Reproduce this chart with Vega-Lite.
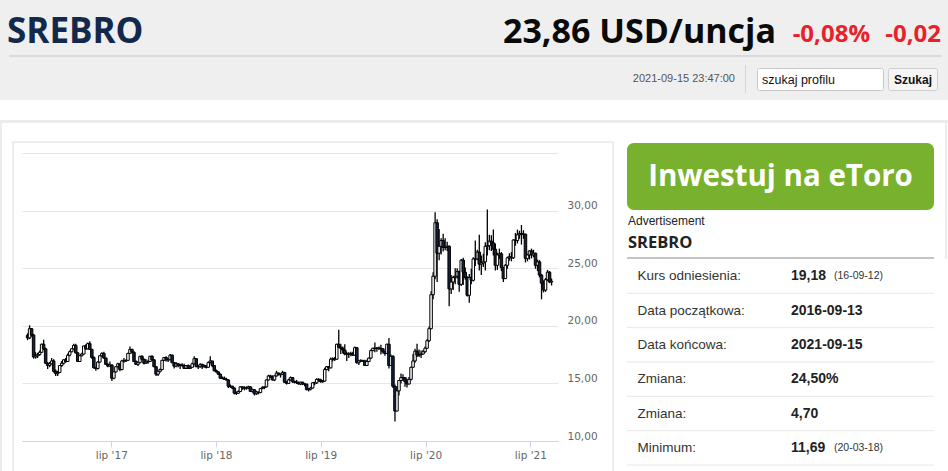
{
"$schema":"https://vega.github.io/schema/vega-lite/v6.json",
"padding":0,
"spacing":0,
"bounds":"flush",
"background":"#ffffff",
"config":{"view":{"stroke":null},"text":{"font":"Liberation Sans"}},
"vconcat":[
{"width":948,"height":57,"view":{"fill":"#efefef","stroke":null},
 "layer":[
  {"data":{"values":[{"t":"SREBRO"}]},"mark":{"type":"text","align":"left","baseline":"alphabetic","font":"Open Sans","fontSize":35,"fontWeight":700,"color":"#13294b"},
   "encoding":{"text":{"field":"t"},"x":{"datum":7,"type":"quantitative","scale":{"domain":[0,948],"nice":false,"zero":false},"axis":null},"y":{"datum":43,"type":"quantitative","scale":{"domain":[0,57],"nice":false,"zero":false,"reverse":true},"axis":null}}},
  {"data":{"values":[{"t":"23,86 USD/uncja"}]},"mark":{"type":"text","align":"right","baseline":"alphabetic","font":"Open Sans","fontSize":34,"fontWeight":700,"color":"#0a0a0a"},
   "encoding":{"text":{"field":"t"},"x":{"datum":776,"type":"quantitative"},"y":{"datum":43,"type":"quantitative"}}},
  {"data":{"values":[{"t":"-0,08%"}]},"mark":{"type":"text","align":"right","baseline":"alphabetic","font":"Open Sans","fontSize":24,"fontWeight":700,"color":"#e8212b"},
   "encoding":{"text":{"field":"t"},"x":{"datum":870,"type":"quantitative"},"y":{"datum":42,"type":"quantitative"}}},
  {"data":{"values":[{"t":"-0,02"}]},"mark":{"type":"text","align":"right","baseline":"alphabetic","font":"Open Sans","fontSize":24,"fontWeight":700,"color":"#e8212b"},
   "encoding":{"text":{"field":"t"},"x":{"datum":941,"type":"quantitative"},"y":{"datum":42,"type":"quantitative"}}},
  {"data":{"values":[{"t":"line"}]},"mark":{"type":"rect","color":"#d9d9d9"},
   "encoding":{"x":{"datum":9,"type":"quantitative"},"x2":{"datum":941},"y":{"datum":55,"type":"quantitative"},"y2":{"datum":57}}}
 ]},
{"width":948,"height":43,"view":{"fill":"#efefef","stroke":null},
 "layer":[
  {"data":{"values":[{"t":"2021-09-15 23:47:00"}]},"mark":{"type":"text","align":"right","baseline":"middle","font":"Liberation Sans","fontSize":11,"color":"#555555"},
   "encoding":{"text":{"field":"t"},"x":{"datum":735,"type":"quantitative","scale":{"domain":[0,948],"nice":false,"zero":false},"axis":null},"y":{"datum":22,"type":"quantitative","scale":{"domain":[0,43],"nice":false,"zero":false,"reverse":true},"axis":null}}},
  {"data":{"values":[{"t":"sep"}]},"mark":{"type":"rect","color":"#d6d6d6"},
   "encoding":{"x":{"datum":745,"type":"quantitative"},"x2":{"datum":746},"y":{"datum":8,"type":"quantitative"},"y2":{"datum":36}}},
  {"data":{"values":[{"t":"input"}]},"mark":{"type":"rect","fill":"#ffffff","stroke":"#c9c9c9","strokeWidth":1,"cornerRadius":2},
   "encoding":{"x":{"datum":757.5,"type":"quantitative"},"x2":{"datum":883.5},"y":{"datum":11.5,"type":"quantitative"},"y2":{"datum":33.5}}},
  {"data":{"values":[{"t":"szukaj profilu"}]},"mark":{"type":"text","align":"left","baseline":"middle","font":"Liberation Sans","fontSize":12.5,"color":"#111111"},
   "encoding":{"text":{"field":"t"},"x":{"datum":762,"type":"quantitative"},"y":{"datum":22.5,"type":"quantitative"}}},
  {"data":{"values":[{"t":"button"}]},"mark":{"type":"rect","fill":"#f5f5f5","stroke":"#cfcfcf","strokeWidth":1,"cornerRadius":2},
   "encoding":{"x":{"datum":888.5,"type":"quantitative"},"x2":{"datum":937.5},"y":{"datum":11.5,"type":"quantitative"},"y2":{"datum":33.5}}},
  {"data":{"values":[{"t":"Szukaj"}]},"mark":{"type":"text","align":"center","baseline":"middle","font":"Liberation Sans","fontSize":12,"fontWeight":700,"color":"#111111"},
   "encoding":{"text":{"field":"t"},"x":{"datum":913,"type":"quantitative"},"y":{"datum":22.5,"type":"quantitative"}}}
 ]},
{"width":948,"height":43,
 "layer":[
  {"data":{"values":[{"t":"outer"}]},"mark":{"type":"rect","color":"#ececec"},
   "encoding":{"x":{"datum":0,"type":"quantitative","scale":{"domain":[0,948],"nice":false,"zero":false},"axis":null},"x2":{"datum":948},"y":{"datum":20,"type":"quantitative","scale":{"domain":[0,43],"nice":false,"zero":false,"reverse":true},"axis":null},"y2":{"datum":23}}},
  {"data":{"values":[{"t":"outerleft"}]},"mark":{"type":"rect","color":"#ececec"},
   "encoding":{"x":{"datum":0,"type":"quantitative"},"x2":{"datum":2},"y":{"datum":20,"type":"quantitative"},"y2":{"datum":43}}},
  {"data":{"values":[{"t":"outerright"}]},"mark":{"type":"rect","color":"#ececec"},
   "encoding":{"x":{"datum":945,"type":"quantitative"},"x2":{"datum":947},"y":{"datum":20,"type":"quantitative"},"y2":{"datum":43}}},
  {"data":{"values":[{"t":"innertop"}]},"mark":{"type":"rect","color":"#eeeeee"},
   "encoding":{"x":{"datum":12,"type":"quantitative"},"x2":{"datum":614},"y":{"datum":41,"type":"quantitative"},"y2":{"datum":43}}}
 ]},
{"hconcat":[
  {"width":22,"height":328,
   "layer":[
    {"data":{"values":[{"t":"a"}]},"mark":{"type":"rect","color":"#ececec"},
     "encoding":{"x":{"datum":0,"type":"quantitative","scale":{"domain":[0,22],"nice":false,"zero":false},"axis":null},"x2":{"datum":2},"y":{"datum":0,"type":"quantitative","scale":{"domain":[0,328],"nice":false,"zero":false,"reverse":true},"axis":null},"y2":{"datum":328}}},
    {"data":{"values":[{"t":"b"}]},"mark":{"type":"rect","color":"#eeeeee"},
     "encoding":{"x":{"datum":12,"type":"quantitative"},"x2":{"datum":14},"y":{"datum":0,"type":"quantitative"},"y2":{"datum":328}}}
   ]},
  {"width":536,"height":298,
     "data":{"values":[
{"d":"2016-09-12","o":19.18,"h":19.35,"l":18.75,"c":18.95},
{"d":"2016-09-19","o":18.95,"h":20.05,"l":18.85,"c":19.75},
{"d":"2016-09-26","o":19.75,"h":19.8,"l":19.05,"c":19.2},
{"d":"2016-10-03","o":19.2,"h":19.3,"l":17.15,"c":17.3},
{"d":"2016-10-10","o":17.3,"h":17.7,"l":17.15,"c":17.4},
{"d":"2016-10-17","o":17.4,"h":17.65,"l":17.2,"c":17.5},
{"d":"2016-10-24","o":17.5,"h":17.85,"l":17.4,"c":17.7},
{"d":"2016-10-31","o":17.7,"h":18.45,"l":17.65,"c":18.4},
{"d":"2016-11-07","o":18.4,"h":18.8,"l":17.9,"c":18.0},
{"d":"2016-11-14","o":18.0,"h":18.1,"l":16.7,"c":16.75},
{"d":"2016-11-21","o":16.75,"h":16.85,"l":16.25,"c":16.55},
{"d":"2016-11-28","o":16.55,"h":16.85,"l":16.4,"c":16.7},
{"d":"2016-12-05","o":16.7,"h":17.2,"l":16.65,"c":16.95},
{"d":"2016-12-12","o":16.95,"h":17.1,"l":15.95,"c":16.05},
{"d":"2016-12-19","o":16.05,"h":16.2,"l":15.65,"c":15.85},
{"d":"2016-12-26","o":15.85,"h":16.1,"l":15.65,"c":15.95},
{"d":"2017-01-02","o":15.95,"h":16.6,"l":15.9,"c":16.55},
{"d":"2017-01-09","o":16.55,"h":16.95,"l":16.45,"c":16.75},
{"d":"2017-01-16","o":16.75,"h":17.1,"l":16.65,"c":17.05},
{"d":"2017-01-23","o":17.05,"h":17.2,"l":16.8,"c":16.9},
{"d":"2017-01-30","o":16.9,"h":17.6,"l":16.85,"c":17.45},
{"d":"2017-02-06","o":17.45,"h":17.85,"l":17.35,"c":17.75},
{"d":"2017-02-13","o":17.75,"h":18.05,"l":17.7,"c":18.0},
{"d":"2017-02-20","o":18.0,"h":18.45,"l":17.95,"c":18.3},
{"d":"2017-02-27","o":18.3,"h":18.45,"l":17.6,"c":17.65},
{"d":"2017-03-06","o":17.65,"h":17.7,"l":16.85,"c":16.9},
{"d":"2017-03-13","o":16.9,"h":17.45,"l":16.85,"c":17.4},
{"d":"2017-03-20","o":17.4,"h":17.65,"l":17.35,"c":17.55},
{"d":"2017-03-27","o":17.55,"h":18.3,"l":17.5,"c":18.25},
{"d":"2017-04-03","o":18.25,"h":18.4,"l":17.9,"c":18.0},
{"d":"2017-04-10","o":18.0,"h":18.55,"l":17.95,"c":18.45},
{"d":"2017-04-17","o":18.45,"h":18.65,"l":17.9,"c":17.95},
{"d":"2017-04-24","o":17.95,"h":18.0,"l":17.15,"c":17.25},
{"d":"2017-05-01","o":17.25,"h":17.35,"l":16.3,"c":16.35},
{"d":"2017-05-08","o":16.35,"h":16.45,"l":16.1,"c":16.3},
{"d":"2017-05-15","o":16.3,"h":16.95,"l":16.2,"c":16.85},
{"d":"2017-05-22","o":16.85,"h":17.45,"l":16.8,"c":17.4},
{"d":"2017-05-29","o":17.4,"h":17.7,"l":17.3,"c":17.6},
{"d":"2017-06-05","o":17.6,"h":17.75,"l":17.15,"c":17.2},
{"d":"2017-06-12","o":17.2,"h":17.25,"l":16.6,"c":16.65},
{"d":"2017-06-19","o":16.65,"h":16.75,"l":16.4,"c":16.5},
{"d":"2017-06-26","o":16.5,"h":16.9,"l":16.45,"c":16.6},
{"d":"2017-07-03","o":16.6,"h":16.65,"l":15.2,"c":15.45},
{"d":"2017-07-10","o":15.45,"h":16.05,"l":15.35,"c":16.0},
{"d":"2017-07-17","o":16.0,"h":16.5,"l":15.95,"c":16.45},
{"d":"2017-07-24","o":16.45,"h":16.8,"l":16.4,"c":16.7},
{"d":"2017-07-31","o":16.7,"h":16.75,"l":16.05,"c":16.2},
{"d":"2017-08-07","o":16.2,"h":17.05,"l":16.15,"c":16.95},
{"d":"2017-08-14","o":16.95,"h":17.2,"l":16.8,"c":16.95},
{"d":"2017-08-21","o":16.95,"h":17.1,"l":16.85,"c":17.0},
{"d":"2017-08-28","o":17.0,"h":17.65,"l":16.95,"c":17.6},
{"d":"2017-09-04","o":17.6,"h":18.2,"l":17.55,"c":17.95},
{"d":"2017-09-11","o":17.95,"h":18.0,"l":17.65,"c":17.7},
{"d":"2017-09-18","o":17.7,"h":17.8,"l":16.85,"c":16.9},
{"d":"2017-09-25","o":16.9,"h":17.0,"l":16.6,"c":16.65},
{"d":"2017-10-02","o":16.65,"h":16.9,"l":16.5,"c":16.8},
{"d":"2017-10-09","o":16.8,"h":17.4,"l":16.75,"c":17.35},
{"d":"2017-10-16","o":17.35,"h":17.45,"l":17.05,"c":17.1},
{"d":"2017-10-23","o":17.1,"h":17.15,"l":16.65,"c":16.75},
{"d":"2017-10-30","o":16.75,"h":17.1,"l":16.7,"c":16.85},
{"d":"2017-11-06","o":16.85,"h":17.05,"l":16.7,"c":16.9},
{"d":"2017-11-13","o":16.9,"h":17.4,"l":16.85,"c":17.35},
{"d":"2017-11-20","o":17.35,"h":17.45,"l":16.95,"c":17.05},
{"d":"2017-11-27","o":17.05,"h":17.1,"l":16.4,"c":16.45},
{"d":"2017-12-04","o":16.45,"h":16.5,"l":15.65,"c":15.8},
{"d":"2017-12-11","o":15.8,"h":16.1,"l":15.65,"c":16.05},
{"d":"2017-12-18","o":16.05,"h":16.3,"l":15.95,"c":16.2},
{"d":"2017-12-25","o":16.2,"h":17.05,"l":16.15,"c":17.0},
{"d":"2018-01-01","o":17.0,"h":17.3,"l":16.95,"c":17.25},
{"d":"2018-01-08","o":17.25,"h":17.35,"l":16.9,"c":17.05},
{"d":"2018-01-15","o":17.05,"h":17.2,"l":16.85,"c":17.05},
{"d":"2018-01-22","o":17.05,"h":17.55,"l":17.0,"c":17.45},
{"d":"2018-01-29","o":17.45,"h":17.5,"l":16.75,"c":16.8},
{"d":"2018-02-05","o":16.8,"h":16.85,"l":16.3,"c":16.5},
{"d":"2018-02-12","o":16.5,"h":16.85,"l":16.4,"c":16.7},
{"d":"2018-02-19","o":16.7,"h":16.75,"l":16.4,"c":16.55},
{"d":"2018-02-26","o":16.55,"h":16.7,"l":16.25,"c":16.6},
{"d":"2018-03-05","o":16.6,"h":16.75,"l":16.45,"c":16.55},
{"d":"2018-03-12","o":16.55,"h":16.7,"l":16.25,"c":16.3},
{"d":"2018-03-19","o":16.3,"h":16.6,"l":16.25,"c":16.55},
{"d":"2018-03-26","o":16.55,"h":16.65,"l":16.25,"c":16.3},
{"d":"2018-04-02","o":16.3,"h":16.55,"l":16.25,"c":16.4},
{"d":"2018-04-09","o":16.4,"h":16.8,"l":16.35,"c":16.7},
{"d":"2018-04-16","o":16.7,"h":17.35,"l":16.65,"c":17.15},
{"d":"2018-04-23","o":17.15,"h":17.2,"l":16.4,"c":16.45},
{"d":"2018-04-30","o":16.45,"h":16.6,"l":16.25,"c":16.45},
{"d":"2018-05-07","o":16.45,"h":16.75,"l":16.35,"c":16.65},
{"d":"2018-05-14","o":16.65,"h":16.7,"l":16.25,"c":16.45},
{"d":"2018-05-21","o":16.45,"h":16.65,"l":16.35,"c":16.55},
{"d":"2018-05-28","o":16.55,"h":16.6,"l":16.3,"c":16.4},
{"d":"2018-06-04","o":16.4,"h":16.9,"l":16.35,"c":16.8},
{"d":"2018-06-11","o":16.8,"h":17.35,"l":16.75,"c":16.95},
{"d":"2018-06-18","o":16.95,"h":16.95,"l":16.4,"c":16.55},
{"d":"2018-06-25","o":16.55,"h":16.6,"l":16.05,"c":16.1},
{"d":"2018-07-02","o":16.1,"h":16.2,"l":15.95,"c":16.0},
{"d":"2018-07-09","o":16.0,"h":16.05,"l":15.75,"c":15.8},
{"d":"2018-07-16","o":15.8,"h":15.85,"l":15.4,"c":15.45},
{"d":"2018-07-23","o":15.45,"h":15.6,"l":15.35,"c":15.45},
{"d":"2018-07-30","o":15.45,"h":15.6,"l":15.3,"c":15.35},
{"d":"2018-08-06","o":15.35,"h":15.5,"l":15.25,"c":15.3},
{"d":"2018-08-13","o":15.3,"h":15.35,"l":14.6,"c":14.75},
{"d":"2018-08-20","o":14.75,"h":14.9,"l":14.6,"c":14.75},
{"d":"2018-08-27","o":14.75,"h":14.8,"l":14.5,"c":14.6},
{"d":"2018-09-03","o":14.6,"h":14.65,"l":14.05,"c":14.15},
{"d":"2018-09-10","o":14.15,"h":14.3,"l":14.0,"c":14.15},
{"d":"2018-09-17","o":14.15,"h":14.4,"l":14.1,"c":14.3},
{"d":"2018-09-24","o":14.3,"h":14.75,"l":14.25,"c":14.7},
{"d":"2018-10-01","o":14.7,"h":14.75,"l":14.45,"c":14.6},
{"d":"2018-10-08","o":14.6,"h":14.75,"l":14.4,"c":14.6},
{"d":"2018-10-15","o":14.6,"h":14.75,"l":14.45,"c":14.6},
{"d":"2018-10-22","o":14.6,"h":14.8,"l":14.5,"c":14.7},
{"d":"2018-10-29","o":14.7,"h":14.75,"l":14.25,"c":14.3},
{"d":"2018-11-05","o":14.3,"h":14.55,"l":14.2,"c":14.45},
{"d":"2018-11-12","o":14.45,"h":14.5,"l":13.95,"c":14.1},
{"d":"2018-11-19","o":14.1,"h":14.35,"l":14.0,"c":14.25},
{"d":"2018-11-26","o":14.25,"h":14.3,"l":14.05,"c":14.2},
{"d":"2018-12-03","o":14.2,"h":14.6,"l":14.15,"c":14.55},
{"d":"2018-12-10","o":14.55,"h":14.75,"l":14.5,"c":14.65},
{"d":"2018-12-17","o":14.65,"h":14.75,"l":14.5,"c":14.7},
{"d":"2018-12-24","o":14.7,"h":15.35,"l":14.65,"c":15.3},
{"d":"2018-12-31","o":15.3,"h":15.75,"l":15.25,"c":15.65},
{"d":"2019-01-07","o":15.65,"h":15.75,"l":15.5,"c":15.55},
{"d":"2019-01-14","o":15.55,"h":15.7,"l":15.25,"c":15.3},
{"d":"2019-01-21","o":15.3,"h":15.7,"l":15.2,"c":15.65},
{"d":"2019-01-28","o":15.65,"h":16.1,"l":15.6,"c":15.9},
{"d":"2019-02-04","o":15.9,"h":15.95,"l":15.7,"c":15.75},
{"d":"2019-02-11","o":15.75,"h":15.85,"l":15.5,"c":15.8},
{"d":"2019-02-18","o":15.8,"h":16.1,"l":15.75,"c":15.95},
{"d":"2019-02-25","o":15.95,"h":16.0,"l":15.05,"c":15.1},
{"d":"2019-03-04","o":15.1,"h":15.2,"l":14.9,"c":15.0},
{"d":"2019-03-11","o":15.0,"h":15.4,"l":14.95,"c":15.3},
{"d":"2019-03-18","o":15.3,"h":15.6,"l":15.25,"c":15.5},
{"d":"2019-03-25","o":15.5,"h":15.55,"l":15.05,"c":15.15},
{"d":"2019-04-01","o":15.15,"h":15.25,"l":15.0,"c":15.1},
{"d":"2019-04-08","o":15.1,"h":15.3,"l":14.95,"c":15.1},
{"d":"2019-04-15","o":15.1,"h":15.15,"l":14.9,"c":14.95},
{"d":"2019-04-22","o":14.95,"h":15.15,"l":14.85,"c":15.1},
{"d":"2019-04-29","o":15.1,"h":15.15,"l":14.85,"c":14.95},
{"d":"2019-05-06","o":14.95,"h":15.0,"l":14.75,"c":14.95},
{"d":"2019-05-13","o":14.95,"h":14.95,"l":14.4,"c":14.45},
{"d":"2019-05-20","o":14.45,"h":14.6,"l":14.3,"c":14.5},
{"d":"2019-05-27","o":14.5,"h":14.7,"l":14.4,"c":14.6},
{"d":"2019-06-03","o":14.6,"h":15.1,"l":14.55,"c":15.05},
{"d":"2019-06-10","o":15.05,"h":15.15,"l":14.85,"c":15.05},
{"d":"2019-06-17","o":15.05,"h":15.45,"l":14.95,"c":15.35},
{"d":"2019-06-24","o":15.35,"h":15.45,"l":15.15,"c":15.3},
{"d":"2019-07-01","o":15.3,"h":15.4,"l":15.05,"c":15.15},
{"d":"2019-07-08","o":15.15,"h":15.3,"l":15.05,"c":15.2},
{"d":"2019-07-15","o":15.2,"h":16.35,"l":15.15,"c":16.2},
{"d":"2019-07-22","o":16.2,"h":16.5,"l":16.15,"c":16.45},
{"d":"2019-07-29","o":16.45,"h":16.5,"l":16.05,"c":16.35},
{"d":"2019-08-05","o":16.35,"h":17.25,"l":16.3,"c":17.1},
{"d":"2019-08-12","o":17.1,"h":17.25,"l":16.9,"c":17.15},
{"d":"2019-08-19","o":17.15,"h":17.3,"l":16.95,"c":17.1},
{"d":"2019-08-26","o":17.1,"h":18.45,"l":17.05,"c":18.4},
{"d":"2019-09-02","o":18.4,"h":19.65,"l":18.05,"c":18.15},
{"d":"2019-09-09","o":18.15,"h":18.45,"l":17.55,"c":18.05},
{"d":"2019-09-16","o":18.05,"h":18.2,"l":17.6,"c":17.9},
{"d":"2019-09-23","o":17.9,"h":18.4,"l":17.45,"c":17.55},
{"d":"2019-09-30","o":17.55,"h":17.75,"l":16.95,"c":17.55},
{"d":"2019-10-07","o":17.55,"h":17.7,"l":17.2,"c":17.55},
{"d":"2019-10-14","o":17.55,"h":17.75,"l":17.35,"c":17.6},
{"d":"2019-10-21","o":17.6,"h":17.75,"l":17.4,"c":17.45},
{"d":"2019-10-28","o":17.45,"h":18.2,"l":17.4,"c":18.1},
{"d":"2019-11-04","o":18.1,"h":18.15,"l":16.7,"c":16.8},
{"d":"2019-11-11","o":16.8,"h":17.05,"l":16.6,"c":16.95},
{"d":"2019-11-18","o":16.95,"h":17.1,"l":16.85,"c":16.95},
{"d":"2019-11-25","o":16.95,"h":17.05,"l":16.85,"c":16.95},
{"d":"2019-12-02","o":16.95,"h":17.05,"l":16.5,"c":16.55},
{"d":"2019-12-09","o":16.55,"h":17.05,"l":16.5,"c":16.9},
{"d":"2019-12-16","o":16.9,"h":17.25,"l":16.85,"c":17.2},
{"d":"2019-12-23","o":17.2,"h":17.95,"l":17.15,"c":17.85},
{"d":"2019-12-30","o":17.85,"h":18.1,"l":17.8,"c":18.05},
{"d":"2020-01-06","o":18.05,"h":18.55,"l":17.7,"c":18.05},
{"d":"2020-01-13","o":18.05,"h":18.15,"l":17.75,"c":18.05},
{"d":"2020-01-20","o":18.05,"h":18.2,"l":17.9,"c":18.05},
{"d":"2020-01-27","o":18.05,"h":18.35,"l":17.5,"c":18.0},
{"d":"2020-02-03","o":18.0,"h":18.05,"l":17.6,"c":17.75},
{"d":"2020-02-10","o":17.75,"h":17.8,"l":17.4,"c":17.6},
{"d":"2020-02-17","o":17.6,"h":18.45,"l":17.55,"c":18.4},
{"d":"2020-02-24","o":18.4,"h":18.95,"l":16.3,"c":16.55},
{"d":"2020-03-02","o":16.55,"h":17.5,"l":16.5,"c":17.35},
{"d":"2020-03-09","o":17.35,"h":17.45,"l":14.6,"c":14.75},
{"d":"2020-03-16","o":14.75,"h":14.9,"l":11.69,"c":12.6},
{"d":"2020-03-23","o":12.6,"h":14.75,"l":12.55,"c":14.35},
{"d":"2020-03-30","o":14.35,"h":15.3,"l":13.95,"c":15.25},
{"d":"2020-04-06","o":15.25,"h":15.85,"l":15.0,"c":15.5},
{"d":"2020-04-13","o":15.5,"h":15.8,"l":15.2,"c":15.5},
{"d":"2020-04-20","o":15.5,"h":15.55,"l":14.7,"c":15.15},
{"d":"2020-04-27","o":15.15,"h":15.4,"l":14.65,"c":14.95},
{"d":"2020-05-04","o":14.95,"h":15.55,"l":14.9,"c":15.35},
{"d":"2020-05-11","o":15.35,"h":16.45,"l":15.25,"c":16.4},
{"d":"2020-05-18","o":16.4,"h":17.55,"l":16.35,"c":16.95},
{"d":"2020-05-25","o":16.95,"h":18.0,"l":16.8,"c":17.8},
{"d":"2020-06-01","o":17.8,"h":18.45,"l":17.3,"c":17.45},
{"d":"2020-06-08","o":17.45,"h":17.95,"l":17.3,"c":17.5},
{"d":"2020-06-15","o":17.5,"h":17.85,"l":17.2,"c":17.55},
{"d":"2020-06-22","o":17.55,"h":17.9,"l":17.5,"c":17.75},
{"d":"2020-06-29","o":17.75,"h":18.2,"l":17.65,"c":18.05},
{"d":"2020-07-06","o":18.05,"h":18.85,"l":18.0,"c":18.7},
{"d":"2020-07-13","o":18.7,"h":19.95,"l":18.6,"c":19.75},
{"d":"2020-07-20","o":19.75,"h":23.0,"l":19.7,"c":22.7},
{"d":"2020-07-27","o":22.7,"h":24.65,"l":22.3,"c":24.3},
{"d":"2020-08-03","o":24.3,"h":29.85,"l":24.05,"c":28.95},
{"d":"2020-08-10","o":28.95,"h":29.25,"l":23.8,"c":26.3},
{"d":"2020-08-17","o":26.3,"h":28.4,"l":25.7,"c":26.9},
{"d":"2020-08-24","o":26.9,"h":27.6,"l":26.2,"c":27.4},
{"d":"2020-08-31","o":27.4,"h":28.0,"l":26.45,"c":26.8},
{"d":"2020-09-07","o":26.8,"h":27.6,"l":26.55,"c":26.8},
{"d":"2020-09-14","o":26.8,"h":27.3,"l":26.5,"c":26.9},
{"d":"2020-09-21","o":26.9,"h":27.0,"l":21.7,"c":23.2},
{"d":"2020-09-28","o":23.2,"h":24.4,"l":22.75,"c":23.8},
{"d":"2020-10-05","o":23.8,"h":24.35,"l":23.1,"c":24.2},
{"d":"2020-10-12","o":24.2,"h":25.0,"l":23.6,"c":24.3},
{"d":"2020-10-19","o":24.3,"h":25.0,"l":24.1,"c":24.7},
{"d":"2020-10-26","o":24.7,"h":24.8,"l":22.95,"c":23.6},
{"d":"2020-11-02","o":23.6,"h":25.8,"l":23.45,"c":25.7},
{"d":"2020-11-09","o":25.7,"h":25.9,"l":23.55,"c":24.65},
{"d":"2020-11-16","o":24.65,"h":25.05,"l":24.0,"c":24.2},
{"d":"2020-11-23","o":24.2,"h":24.3,"l":22.55,"c":22.65},
{"d":"2020-11-30","o":22.65,"h":24.5,"l":22.0,"c":24.2},
{"d":"2020-12-07","o":24.2,"h":24.95,"l":23.6,"c":23.95},
{"d":"2020-12-14","o":23.95,"h":25.95,"l":23.85,"c":25.8},
{"d":"2020-12-21","o":25.8,"h":27.4,"l":25.2,"c":25.8},
{"d":"2020-12-28","o":25.8,"h":26.6,"l":25.7,"c":26.4},
{"d":"2021-01-04","o":26.4,"h":27.9,"l":24.8,"c":25.35},
{"d":"2021-01-11","o":25.35,"h":26.1,"l":24.4,"c":25.45},
{"d":"2021-01-18","o":25.45,"h":26.25,"l":25.1,"c":25.55},
{"d":"2021-01-25","o":25.55,"h":27.25,"l":24.8,"c":26.9},
{"d":"2021-02-01","o":26.9,"h":30.1,"l":26.1,"c":26.95},
{"d":"2021-02-08","o":26.95,"h":27.9,"l":26.55,"c":27.35},
{"d":"2021-02-15","o":27.35,"h":27.85,"l":26.5,"c":27.2},
{"d":"2021-02-22","o":27.2,"h":28.35,"l":26.1,"c":26.65},
{"d":"2021-03-01","o":26.65,"h":27.15,"l":24.8,"c":25.25},
{"d":"2021-03-08","o":25.25,"h":26.35,"l":24.85,"c":26.15},
{"d":"2021-03-15","o":26.15,"h":26.7,"l":25.8,"c":26.25},
{"d":"2021-03-22","o":26.25,"h":26.4,"l":24.75,"c":25.05},
{"d":"2021-03-29","o":25.05,"h":25.1,"l":23.8,"c":24.1},
{"d":"2021-04-05","o":24.1,"h":25.35,"l":24.05,"c":25.25},
{"d":"2021-04-12","o":25.25,"h":26.0,"l":24.95,"c":25.9},
{"d":"2021-04-19","o":25.9,"h":26.3,"l":25.65,"c":26.0},
{"d":"2021-04-26","o":26.0,"h":26.4,"l":25.6,"c":25.9},
{"d":"2021-05-03","o":25.9,"h":27.5,"l":25.8,"c":27.45},
{"d":"2021-05-10","o":27.45,"h":28.05,"l":26.95,"c":27.4},
{"d":"2021-05-17","o":27.4,"h":28.35,"l":27.15,"c":27.9},
{"d":"2021-05-24","o":27.9,"h":28.25,"l":27.55,"c":28.0},
{"d":"2021-05-31","o":28.0,"h":28.75,"l":27.05,"c":27.95},
{"d":"2021-06-07","o":27.95,"h":28.3,"l":27.55,"c":27.95},
{"d":"2021-06-14","o":27.95,"h":28.0,"l":25.5,"c":25.85},
{"d":"2021-06-21","o":25.85,"h":26.25,"l":25.6,"c":26.15},
{"d":"2021-06-28","o":26.15,"h":26.55,"l":25.75,"c":26.5},
{"d":"2021-07-05","o":26.5,"h":26.7,"l":25.85,"c":26.15},
{"d":"2021-07-12","o":26.15,"h":26.6,"l":25.95,"c":26.3},
{"d":"2021-07-19","o":26.3,"h":26.35,"l":24.95,"c":25.25},
{"d":"2021-07-26","o":25.25,"h":25.75,"l":24.75,"c":25.55},
{"d":"2021-08-02","o":25.55,"h":25.7,"l":24.2,"c":24.4},
{"d":"2021-08-09","o":24.4,"h":24.5,"l":22.3,"c":23.7},
{"d":"2021-08-16","o":23.7,"h":23.95,"l":22.9,"c":23.1},
{"d":"2021-08-23","o":23.1,"h":24.15,"l":22.95,"c":24.0},
{"d":"2021-08-30","o":24.0,"h":24.85,"l":23.9,"c":24.65},
{"d":"2021-09-06","o":24.65,"h":24.75,"l":23.7,"c":23.8},
{"d":"2021-09-13","o":23.8,"h":24.1,"l":23.5,"c":23.86}
     ]},
     "encoding":{"x":{"field":"d","type":"temporal",
        "scale":{"domain":[{"year":2016,"month":9,"date":10,"utc":true},{"year":2021,"month":9,"date":18,"utc":true}]},
        "axis":{"title":null,"grid":false,"values":[{"year":2017,"month":7,"date":1,"utc":true},{"year":2018,"month":7,"date":1,"utc":true},{"year":2019,"month":7,"date":1,"utc":true},{"year":2020,"month":7,"date":1,"utc":true},{"year":2021,"month":7,"date":1,"utc":true}],
          "labelExpr":"\"lip '\" + utcFormat(datum.value, '%y')","domainColor":"#ccd6eb","tickColor":"#ccd6eb","tickSize":6,"labelColor":"#666666","labelFont":"DejaVu Sans","labelFontSize":10.5,"labelPadding":3,"labelFlush":false,"labelOverlap":false}}},
     "layer":[
      {"mark":{"type":"rule","color":"#000000","strokeWidth":1.3},
       "encoding":{"y":{"field":"l","type":"quantitative","scale":{"domain":[10,35.868],"nice":false,"zero":false},
          "axis":{"title":null,"orient":"right","values":[10,15,20,25,30,35],"labelExpr":"datum.value >= 35 ? '' : replace(format(datum.value, '.2f'), '.', ',')","grid":true,"gridColor":{"condition":{"test":"datum.value == 10","value":"#ccd6eb"},"value":"#e6e6e6"},"domain":false,"ticks":false,"tickSize":0,"labelPadding":9,"labelColor":"#666666","labelFont":"DejaVu Sans","labelFontSize":10.5,"labelBaseline":"bottom","labelAlign":"left"}},
        "y2":{"field":"h"}}},
      {"mark":{"type":"bar","size":2.5,"stroke":"#000000","strokeWidth":1},
       "encoding":{"y":{"field":"o","type":"quantitative"},"y2":{"field":"c"},
        "fill":{"condition":{"test":"datum.c < datum.o","value":"#14233f"},"value":"#ffffff"}}}
     ]},
  {"width":69,"height":328,
   "layer":[
    {"data":{"values":[{"t":"r"}]},"mark":{"type":"rect","color":"#eeeeee"},
     "encoding":{"x":{"datum":54,"type":"quantitative","scale":{"domain":[0,69],"nice":false,"zero":false},"axis":null},"x2":{"datum":56},"y":{"datum":0,"type":"quantitative","scale":{"domain":[0,328],"nice":false,"zero":false,"reverse":true},"axis":null},"y2":{"datum":328}}}
   ]},
  {"vconcat":[
    {"width":321,"height":67,
     "layer":[
      {"data":{"values":[{"t":"btn"}]},"mark":{"type":"rect","color":"#77b12d","cornerRadius":7},
       "encoding":{"x":{"datum":0,"type":"quantitative","scale":{"domain":[0,321],"nice":false,"zero":false},"axis":null},"x2":{"datum":307},"y":{"datum":0,"type":"quantitative","scale":{"domain":[0,67],"nice":false,"zero":false,"reverse":true},"axis":null},"y2":{"datum":67}}},
      {"data":{"values":[{"t":"Inwestuj na eToro"}]},"mark":{"type":"text","align":"center","baseline":"middle","font":"Open Sans","fontSize":29.5,"fontWeight":700,"color":"#ffffff"},
       "encoding":{"text":{"field":"t"},"x":{"datum":153.5,"type":"quantitative"},"y":{"datum":33.5,"type":"quantitative"}}},
      {"data":{"values":[{"t":"border"}]},"mark":{"type":"rect","color":"#ececec"},
       "encoding":{"x":{"datum":318,"type":"quantitative"},"x2":{"datum":320},"y":{"datum":0,"type":"quantitative"},"y2":{"datum":67}}}
     ]},
    {"width":321,"height":49,
     "layer":[
      {"data":{"values":[{"t":"Advertisement"}]},"mark":{"type":"text","align":"left","baseline":"middle","font":"Liberation Sans","fontSize":12,"color":"#222222"},
       "encoding":{"text":{"field":"t"},"x":{"datum":1,"type":"quantitative","scale":{"domain":[0,321],"nice":false,"zero":false},"axis":null},"y":{"datum":11,"type":"quantitative","scale":{"domain":[0,49],"nice":false,"zero":false,"reverse":true},"axis":null}}},
      {"data":{"values":[{"t":"SREBRO"}]},"mark":{"type":"text","align":"left","baseline":"middle","font":"Open Sans","fontSize":16.5,"fontWeight":700,"color":"#222222"},
       "encoding":{"text":{"field":"t"},"x":{"datum":1,"type":"quantitative"},"y":{"datum":32.5,"type":"quantitative"}}},
      {"data":{"values":[{"t":"line"}]},"mark":{"type":"rect","color":"#c4c4c4"},
       "encoding":{"x":{"datum":0,"type":"quantitative"},"x2":{"datum":307},"y":{"datum":47,"type":"quantitative"},"y2":{"datum":49}}},
      {"data":{"values":[{"t":"border"}]},"mark":{"type":"rect","color":"#ececec"},
       "encoding":{"x":{"datum":318,"type":"quantitative"},"x2":{"datum":320},"y":{"datum":0,"type":"quantitative"},"y2":{"datum":49}}}
     ]},
    {"width":321,"height":206,
     "data":{"values":[
      {"r":1,"label":"Kurs odniesienia:","value":"19,18","note":"(16-09-12)"},
      {"r":2,"label":"Data początkowa:","value":"2016-09-13","note":""},
      {"r":3,"label":"Data końcowa:","value":"2021-09-15","note":""},
      {"r":4,"label":"Zmiana:","value":"24,50%","note":""},
      {"r":5,"label":"Zmiana:","value":"4,70","note":""},
      {"r":6,"label":"Minimum:","value":"11,69","note":"(20-03-18)"}
     ]},
     "layer":[
      {"mark":{"type":"rule","color":"#e8e8e8","strokeWidth":1},
       "encoding":{"y":{"field":"r","type":"ordinal","bandPosition":1,"scale":{"type":"band","paddingInner":0,"paddingOuter":0},"axis":null},
        "x":{"datum":0,"type":"quantitative","scale":{"domain":[0,321],"nice":false,"zero":false},"axis":null},"x2":{"datum":307}}},
      {"mark":{"type":"text","align":"left","baseline":"middle","font":"Liberation Sans","fontSize":13.5,"color":"#333333"},
       "encoding":{"text":{"field":"label"},"y":{"field":"r","type":"ordinal"},"x":{"datum":10.5,"type":"quantitative"}}},
      {"mark":{"type":"text","align":"left","baseline":"middle","font":"Liberation Sans","fontSize":14,"fontWeight":700,"color":"#222222"},
       "encoding":{"text":{"field":"value"},"y":{"field":"r","type":"ordinal"},"x":{"datum":164,"type":"quantitative"}}},
      {"mark":{"type":"text","align":"left","baseline":"middle","font":"Liberation Sans","fontSize":10.5,"color":"#333333"},
       "encoding":{"text":{"field":"note"},"y":{"field":"r","type":"ordinal"},"x":{"datum":207,"type":"quantitative"}}}
     ]}
  ],"spacing":0,"bounds":"flush"}
 ],"spacing":0,"bounds":"flush"}
]
}
